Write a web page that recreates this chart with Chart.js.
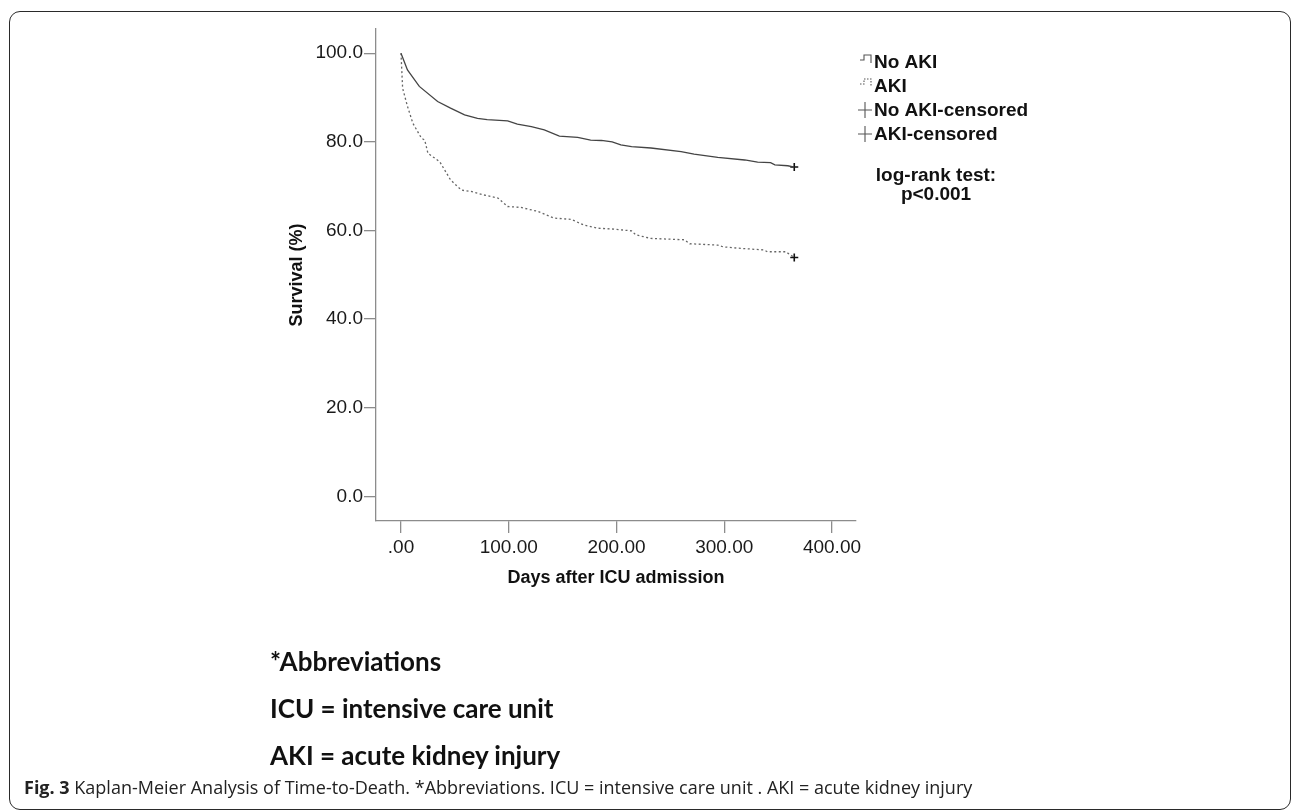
<!DOCTYPE html>
<html><head><meta charset="utf-8">
<script src="https://cdn.jsdelivr.net/npm/chart.js@4.4.1/dist/chart.umd.min.js"></script>
<style>
html,body{margin:0;padding:0;background:#fff;width:1292px;height:812px;overflow:hidden;}
#frame{position:absolute;left:9px;top:11px;width:1282px;height:799px;border:1.6px solid #2a2a2a;border-radius:11px;box-sizing:border-box;}
#c{position:absolute;left:0;top:0;}
.abbr{position:absolute;left:270px;font-family:Lato,'Open Sans',sans-serif;font-weight:700;font-size:26px;color:#111;line-height:26px;white-space:nowrap;}
#cap{position:absolute;left:24px;top:778px;font-family:'Open Sans',sans-serif;font-size:18px;line-height:18px;color:#222;white-space:nowrap;}
#cap b{font-weight:700;}
</style></head>
<body>
<div id="frame"></div>
<canvas id="c" width="1292" height="812"></canvas>
<div class="abbr" style="top:648px">*Abbreviations</div>
<div class="abbr" style="top:695px">ICU = intensive care unit</div>
<div class="abbr" style="top:742px">AKI = acute kidney injury</div>
<div id="cap"><b>Fig. 3</b> Kaplan-Meier Analysis of Time-to-Death. *Abbreviations. ICU = intensive care unit . AKI = acute kidney injury</div>
<script>
// ---- data ----
const seriesNames = ['No AKI', 'AKI', 'No AKI-censored', 'AKI-censored'];
const noAkiDays = [0, 6, 17, 34, 46, 59, 71, 80, 99, 108, 121, 133, 147, 164, 176, 186, 196, 204, 214, 232, 260, 272, 294, 319, 331, 343, 347, 359, 365];
const noAkiSurv = [100, 96.2, 92.5, 89.1, 87.6, 86.1, 85.3, 85.0, 84.7, 84.0, 83.4, 82.7, 81.3, 81.0, 80.4, 80.3, 80.0, 79.3, 78.9, 78.6, 77.8, 77.2, 76.5, 75.9, 75.4, 75.3, 74.8, 74.6, 74.3];
const akiDays = [0, 1.5, 6, 11, 19, 22, 25, 36, 46, 56, 65, 77, 90, 99, 111, 127, 142, 158, 170, 183, 198, 214, 218, 232, 263, 268, 294, 299, 313, 337, 340, 357, 365];
const akiSurv = [100, 92.1, 88.0, 84.2, 80.8, 80.4, 77.4, 75.5, 71.4, 69.1, 68.8, 68.0, 67.3, 65.4, 65.2, 64.3, 62.8, 62.5, 61.2, 60.5, 60.3, 59.9, 59.0, 58.2, 57.9, 57.0, 56.7, 56.3, 56.0, 55.6, 55.2, 55.2, 53.9];
const censorDays = [365, 365];
const censorSurv = [74.3, 53.9];
const xTickValues = [0, 100, 200, 300, 400];
const yTickValues = [0, 20, 40, 60, 80, 100];
const xTitle = 'Days after ICU admission';
const yTitle = 'Survival (%)';
const testLines = ['log-rank test:', 'p<0.001'];

const pts = (xs, ys) => xs.map((x, i) => ({x: x, y: ys[i]}));
const axisGray = '#8c8c8c';
const tickFont = {family: "'Liberation Sans', Arial, sans-serif", size: 19};
const titleFont = {family: "'Liberation Sans', Arial, sans-serif", size: 18, weight: 'bold'};

const kmLegend = {
  id: 'kmLegend',
  afterDraw(chart) {
    const ctx = chart.ctx, a = chart.chartArea;
    const ix = a.right + 4, tx = a.right + 18;
    const rows = [62, 86, 110, 134];
    ctx.save();
    ctx.font = "bold 19px 'Liberation Sans', Arial, sans-serif";
    ctx.fillStyle = '#111';
    ctx.textBaseline = 'middle';
    ctx.textAlign = 'left';
    chart.data.datasets.forEach((ds, i) => {
      const y = rows[i];
      ctx.strokeStyle = '#555';
      ctx.lineWidth = 1.1;
      ctx.setLineDash(i === 1 ? [1.5, 1.5] : []);
      ctx.beginPath();
      if (i < 2) {
        ctx.moveTo(ix, y - 2); ctx.lineTo(ix + 4, y - 2); ctx.lineTo(ix + 4, y - 7);
        ctx.lineTo(ix + 11, y - 7); ctx.lineTo(ix + 11, y + 1);
      } else {
        ctx.moveTo(ix - 2, y); ctx.lineTo(ix + 12, y);
        ctx.moveTo(ix + 5, y - 8); ctx.lineTo(ix + 5, y + 8);
      }
      ctx.stroke();
      ctx.setLineDash([]);
      ctx.fillText(ds.label, tx, y + 1);
    });
    ctx.textAlign = 'center';
    ctx.fillText(testLines[0], a.right + 80, 176);
    ctx.fillText(testLines[1], a.right + 80, 195);
    ctx.restore();
  }
};

new Chart(document.getElementById('c'), {
  type: 'line',
  data: {
    datasets: [
      {label: seriesNames[0], data: pts(noAkiDays, noAkiSurv), borderColor: '#444', borderWidth: 1.3, pointRadius: 0, fill: false, tension: 0},
      {label: seriesNames[1], data: pts(akiDays, akiSurv), borderColor: '#666', borderWidth: 1.3, borderDash: [2, 2.5], pointRadius: 0, fill: false, tension: 0},
      {label: seriesNames[2], data: pts([censorDays[0]], [censorSurv[0]]), showLine: false, pointStyle: 'cross', pointRadius: 4, borderColor: '#111', borderWidth: 1.6},
      {label: seriesNames[3], data: pts([censorDays[1]], [censorSurv[1]]), showLine: false, pointStyle: 'cross', pointRadius: 4, borderColor: '#111', borderWidth: 1.6}
    ]
  },
  options: {
    responsive: false,
    animation: false,
    devicePixelRatio: 1,
    layout: {padding: {left: 286, right: 436, top: 29, bottom: 223}},
    plugins: {legend: {display: false}, tooltip: {enabled: false}},
    scales: {
      x: {
        type: 'linear', min: -23.2, max: 422.3,
        afterBuildTicks: s => { s.ticks = xTickValues.map(v => ({value: v})); },
        afterFit: s => { s.height = 68; },
        ticks: {font: tickFont, color: '#1a1a1a', padding: 3, maxRotation: 0, autoSkip: false,
                callback: v => v === 0 ? '.00' : v.toFixed(2)},
        grid: {drawOnChartArea: false, drawTicks: true, tickLength: 12, color: axisGray, lineWidth: 1.3},
        border: {color: axisGray, width: 1.3},
        title: {display: true, text: xTitle, font: titleFont, color: '#111', padding: 0}
      },
      y: {
        type: 'linear', min: -5.55, max: 105.45,
        afterBuildTicks: s => { s.ticks = yTickValues.map(v => ({value: v})); },
        afterFit: s => { s.width = 90; },
        ticks: {font: tickFont, color: '#1a1a1a', padding: 1, autoSkip: false,
                callback: v => v.toFixed(1)},
        grid: {drawOnChartArea: false, drawTicks: true, tickLength: 12, color: axisGray, lineWidth: 1.3},
        border: {color: axisGray, width: 1.3},
        title: {display: true, text: yTitle, font: titleFont, color: '#111', padding: 0}
      }
    }
  },
  plugins: [kmLegend]
});
</script>
</body></html>
